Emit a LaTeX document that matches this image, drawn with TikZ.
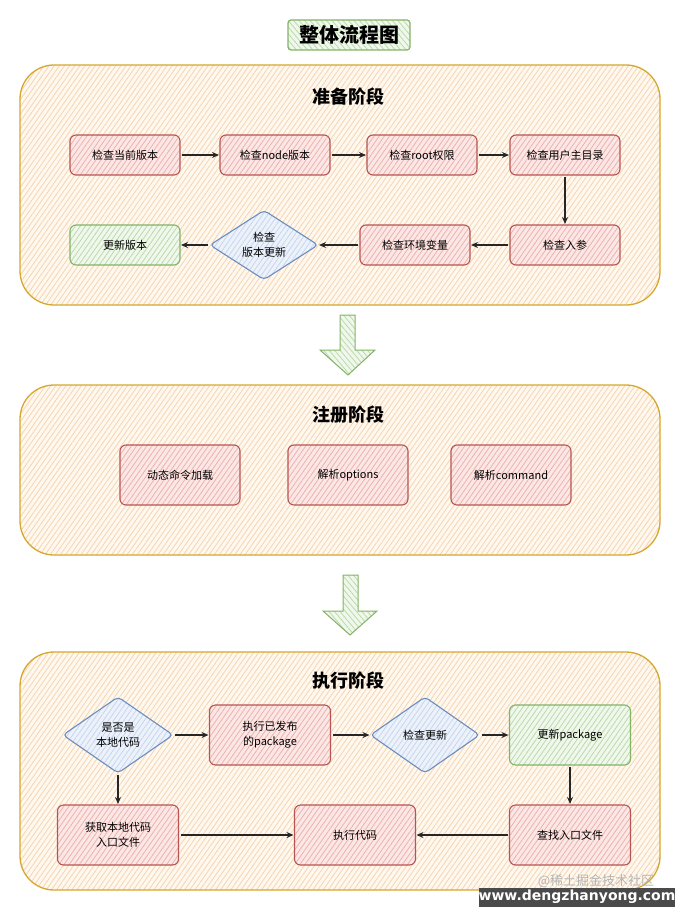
\documentclass[tikz,border=0pt]{standalone}
\usepackage{fontspec}
\setmainfont{Noto Sans CJK SC}
\newfontfamily\wmfont{DejaVu Sans}
\usetikzlibrary{shapes.geometric,arrows.meta,patterns.meta}
\definecolor{secdraw}{HTML}{D6A72C}
\definecolor{secfill}{HTML}{FFF8EF}
\definecolor{sechatch}{HTML}{F6D2AE}
\definecolor{rdraw}{HTML}{B85450}
\definecolor{rfill}{HTML}{FBE8E6}
\definecolor{rhatch}{HTML}{EEAEA9}
\definecolor{gdraw}{HTML}{82B366}
\definecolor{gfill}{HTML}{F0F7EC}
\definecolor{ghatch}{HTML}{B8D9A6}
\definecolor{bdraw}{HTML}{6C8EBF}
\definecolor{bfill}{HTML}{EDF2FA}
\definecolor{bhatch}{HTML}{C4D5EE}
\definecolor{wmgray}{HTML}{B5B5B5}
\definecolor{bannergray}{HTML}{4A4A4A}
\begin{document}
\begin{tikzpicture}[x=1pt,y=-1pt,
  hatch/.style n args={3}{preaction={fill=#1},
    preaction={pattern={Lines[angle=#3,distance=4.2pt,line width=0.75pt]}, pattern color=#2}},
  sec/.style={draw=secdraw, line width=1.3pt, rounded corners=34pt,
    hatch={secfill}{sechatch}{55}, minimum width=640pt, outer sep=0pt},
  sectitle/.style={font=\bfseries\fontsize{18}{20}\selectfont},
  basebox/.style={rounded corners=6pt, line width=1.1pt, outer sep=0pt, align=center,
    font=\fontsize{11}{15}\selectfont, inner sep=2pt},
  rbox/.style={basebox, draw=rdraw, hatch={rfill}{rhatch}{55}},
  gbox/.style={basebox, draw=gdraw, hatch={gfill}{ghatch}{55}},
  bdia/.style={basebox, shape=diamond, rounded corners=4pt, draw=bdraw, hatch={bfill}{bhatch}{55}, inner sep=0pt},
  small/.style={minimum width=110pt, minimum height=40pt},
  big/.style={minimum width=121pt, minimum height=60pt},
  conn/.style={-{Stealth[open,length=7pt,width=6pt]}, line width=1.2pt, black!85, shorten <=2pt, shorten >=1pt},
  bigarrow/.style={draw=gdraw, line width=1pt, hatch={gfill}{ghatch}{-50}}
]
\useasboundingbox (0,0) rectangle (681,912);

% title
\node[draw=gdraw, line width=1.2pt, rounded corners=3pt, hatch={gfill}{ghatch}{-50},
  minimum width=122pt, minimum height=30pt, outer sep=0pt,
  font=\bfseries\fontsize{20}{22}\selectfont] (title) at (349,35) {整体流程图};

% ---------- section 1 ----------
\node[sec, minimum height=240pt] (sec1) at (340,185) {};
\node[sectitle] (t1) at (348,97) {准备阶段};
\node[rbox, small] (a1) at (125,155) {检查当前版本};
\node[rbox, small] (a2) at (275,155) {检查node版本};
\node[rbox, small] (a3) at (422,155) {检查root权限};
\node[rbox, small] (a4) at (565,155) {检查用户主目录};
\node[rbox, small] (a5) at (565,245) {检查入参};
\node[rbox, small] (a6) at (415,245) {检查环境变量};
\node[bdia, minimum width=108pt, minimum height=64pt] (a7) at (264,245) {检查\\版本更新};
\node[gbox, small] (a8) at (125,245) {更新版本};
\draw[conn] (a1) -- (a2);
\draw[conn] (a2) -- (a3);
\draw[conn] (a3) -- (a4);
\draw[conn] (a4) -- (a5);
\draw[conn] (a5) -- (a6);
\draw[conn] (a6) -- (a7);
\draw[conn] (a7) -- (a8);

% big arrow 1
\path[bigarrow] (340,315) -- (355,315) -- (355,350) -- (375,350) -- (348,375) -- (320,350) -- (340,350) -- cycle;

% ---------- section 2 ----------
\node[sec, minimum height=170pt] (sec2) at (340,470) {};
\node[sectitle] (t2) at (348,415) {注册阶段};
\node[rbox, minimum width=120pt, minimum height=60pt] (b1) at (180,475) {动态命令加载};
\node[rbox, minimum width=120pt, minimum height=60pt] (b2) at (348,475) {解析options};
\node[rbox, minimum width=120pt, minimum height=60pt] (b3) at (511,475) {解析command};

% big arrow 2
\path[bigarrow] (343,575) -- (358,575) -- (358,611) -- (377,611) -- (350,635) -- (323,611) -- (343,611) -- cycle;

% ---------- section 3 ----------
\node[sec, minimum height=238pt] (sec3) at (340,771) {};
\node[sectitle] (t3) at (348,681) {执行阶段};
\node[bdia, minimum width=110pt, minimum height=76pt] (c1) at (118,735) {是否是\\本地代码};
\node[rbox, big] (c2) at (270,735) {执行已发布\\的package};
\node[bdia, minimum width=109pt, minimum height=76pt] (c3) at (425,735) {检查更新};
\node[gbox, big] (c4) at (570,735) {更新package};
\node[rbox, big] (c5) at (570,835) {查找入口文件};
\node[rbox, big] (c6) at (355,835) {执行代码};
\node[rbox, big] (c7) at (118,835) {获取本地代码\\入口文件};
\draw[conn] (c1) -- (c2);
\draw[conn] (c2) -- (c3);
\draw[conn] (c3) -- (c4);
\draw[conn] (c4) -- (c5);
\draw[conn] (c5) -- (c6);
\draw[conn] (c1) -- (c7);
\draw[conn] (c7) -- (c6);

% watermark
\node[text=wmgray, font=\fontsize{13}{14}\selectfont, inner sep=0pt] (wm) at (596,881) {@稀土掘金技术社区};
\node[fill=bannergray, text=white, minimum width=196pt, minimum height=19pt, inner sep=0pt,
  font=\wmfont\bfseries\fontsize{14}{15}\selectfont] (banner) at (577,897) {www.dengzhanyong.com};
\end{tikzpicture}
\end{document}
